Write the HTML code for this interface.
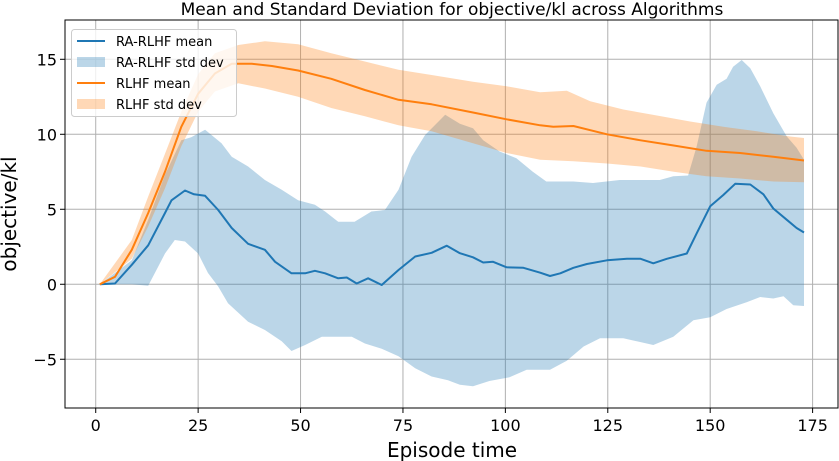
<!DOCTYPE html>
<html><head><meta charset="utf-8"><style>
body{margin:0;background:#fff;}
svg{display:block;font-family:"DejaVu Sans","Liberation Sans",sans-serif;}
</style></head><body>
<svg id="chart" width="839" height="461"></svg>
<script>
const raMeanX=[1,4.7,8.8,12.8,16.9,18.5,21.8,24,26.7,29.9,33.2,37.2,41.3,43.8,47.8,51.1,53.5,56,59.2,61.3,63.7,66.5,69.8,73.9,78,82,85.7,88.9,92.1,94.6,97,100.3,104.4,108.5,110.9,113.4,116.6,119.9,124.8,129.7,133,136.1,139.4,144.3,146.7,150,153.2,156.1,159.8,163,165.4,168.7,171.1,172.9];
const raMean=[0,0.05,1.3,2.6,4.75,5.6,6.25,6.0,5.9,4.95,3.75,2.7,2.3,1.5,0.73,0.73,0.9,0.73,0.4,0.45,0.05,0.4,-0.05,0.95,1.85,2.1,2.57,2.07,1.8,1.45,1.5,1.13,1.1,0.77,0.55,0.73,1.1,1.35,1.6,1.7,1.7,1.4,1.7,2.05,3.4,5.2,5.95,6.7,6.65,6.0,5.05,4.3,3.75,3.45];
const raUpX=[1,8.8,12.8,16.9,20.9,23.3,26.7,30.7,33.2,37.2,41.3,45.4,49.4,53.5,56,59.2,63.2,67.3,70.6,73.9,77.1,80.4,85.3,88.9,92.1,94.6,98.6,102.7,106.7,110,116.6,121.4,127.9,137.7,141,144.6,146.7,149.1,151.6,154,155.6,157.7,159.8,162.2,165.4,168.7,171.1,172.9];
const raUp=[0,1.6,4.3,7.3,9.6,9.8,10.3,9.4,8.5,7.85,6.95,6.3,5.6,5.3,4.85,4.17,4.17,4.85,4.95,6.3,8.5,9.95,11.3,10.7,10.4,9.6,8.85,8.4,7.5,6.85,6.85,6.75,6.95,6.95,7.2,7.25,9.2,12.1,13.3,13.7,14.5,14.95,14.4,13.2,11.4,9.85,9.1,8.3];
const raLoX=[1,8.8,12.8,15.3,16.9,19.3,21.8,25,27.4,29.9,32.3,37.2,41.3,45.4,47.8,51.1,55.2,59.2,62.5,65.7,69.8,73.9,78,82,86,88.9,92.1,96.1,101,105.2,110.9,115,119.1,123.1,128.8,132.9,136.1,141,145.9,150,154,158.9,162.2,165.4,167.9,170.3,172.9];
const raLo=[0,0,-0.1,1.2,2.05,2.95,2.85,2.05,0.75,-0.15,-1.27,-2.5,-3.05,-3.8,-4.45,-4.05,-3.5,-3.5,-3.5,-3.95,-4.3,-4.8,-5.6,-6.15,-6.4,-6.7,-6.8,-6.45,-6.2,-5.7,-5.7,-5.1,-4.15,-3.6,-3.6,-3.85,-4.05,-3.5,-2.4,-2.2,-1.65,-1.2,-0.85,-0.95,-0.8,-1.4,-1.45];
const rlMeanX=[1,4.7,8.8,12.8,16.9,20.9,25,29.1,33.2,38.1,43,49.4,57.5,65.7,73.9,82,92.1,100.3,108.5,111.7,116.6,124.8,133,141.1,149.1,157.3,165.4,172.9];
const rlMean=[0,0.5,2.3,4.75,7.5,10.5,12.7,14.05,14.7,14.7,14.55,14.25,13.7,12.95,12.3,12.0,11.45,11.0,10.6,10.5,10.55,10.0,9.6,9.25,8.9,8.75,8.5,8.25];
const rlUpX=[1,8.8,12.8,16.9,20.9,25,29.1,34.8,41.3,49.4,57.5,65.7,73.9,82,92.1,100.3,108.5,115,120.7,128.8,137,145.1,153.2,161.4,169.5,172.9];
const rlUp=[0,2.95,5.85,8.7,11.5,14.0,15.4,15.95,16.2,16.0,15.4,14.85,14.3,13.95,13.5,13.2,12.8,12.9,12.2,11.65,11.25,10.85,10.5,10.2,9.85,9.75];
const rlLoX=[1,8.8,12.8,16.9,20.9,25,29.1,34.8,41.3,49.4,57.5,65.7,73.9,82,92.1,100.3,108.5,116.6,124.8,133,141.1,149.1,157.3,165.4,172.9];
const rlLo=[0,1.7,3.85,6.4,9.2,11.5,12.85,13.4,13.05,12.5,11.75,11.2,10.6,10.2,9.4,8.75,8.3,8.2,8.05,7.85,7.5,7.2,7.05,6.85,6.8];
const xTicks=[0,25,50,75,100,125,150,175];
const yTicks=[-5,0,5,10,15];

const NS="http://www.w3.org/2000/svg";
const svg=document.getElementById('chart');
const L=65,R=838,T=20,B=408;
const xmin=-7.5,xmax=181.2,ymin=-8.25,ymax=17.62;
const sx=v=>L+(v-xmin)/(xmax-xmin)*(R-L);
const sy=v=>B-(v-ymin)/(ymax-ymin)*(B-T);
function mk(tag,attrs){const e=document.createElementNS(NS,tag);for(const k in attrs)e.setAttribute(k,attrs[k]);svg.appendChild(e);return e;}
function txt(s,attrs){const e=mk('text',attrs);e.textContent=s;return e;}
function line(xs,ys){return xs.map((x,i)=>(i?'L':'M')+sx(x).toFixed(1)+','+sy(ys[i]).toFixed(1)).join('');}
function band(ux,uy,lx,ly){let d=line(ux,uy);for(let i=lx.length-1;i>=0;i--)d+='L'+sx(lx[i]).toFixed(1)+','+sy(ly[i]).toFixed(1);return d+'Z';}

xTicks.forEach(v=>{
  const g=mk('line',{x1:sx(v),x2:sx(v),y1:T,y2:B,stroke:'#b0b0b0','stroke-width':1});
  
  
  const t=mk('line',{x1:sx(v),x2:sx(v),y1:B,y2:B+5,stroke:'#000','stroke-width':1});
  
  
  const l=txt(String(v),{x:sx(v),y:B+23,'text-anchor':'middle','font-size':16,fill:'#000'});
  
  
});
yTicks.forEach(v=>{
  const g=mk('line',{x1:L,x2:R,y1:sy(v),y2:sy(v),stroke:'#b0b0b0','stroke-width':1});
  
  
  const t=mk('line',{x1:L-5,x2:L,y1:sy(v),y2:sy(v),stroke:'#000','stroke-width':1});
  
  
  const l=txt(v<0?'\u2212'+(-v):String(v),{x:L-8,y:sy(v)+6,'text-anchor':'end','font-size':16,fill:'#000'});
  
  
});

const raBand=mk('path',{d:band(raUpX,raUp,raLoX,raLo),fill:'#1f77b4','fill-opacity':0.3});


const raLine=mk('path',{d:line(raMeanX,raMean),fill:'none',stroke:'#1f77b4','stroke-width':2,'stroke-linejoin':'round'});


const rlBand=mk('path',{d:band(rlUpX,rlUp,rlLoX,rlLo),fill:'#ff7f0e','fill-opacity':0.3});


const rlLine=mk('path',{d:line(rlMeanX,rlMean),fill:'none',stroke:'#ff7f0e','stroke-width':2,'stroke-linejoin':'round'});



const frame=mk('rect',{x:L,y:T,width:R-L,height:B-T,fill:'none',stroke:'#000','stroke-width':1});



const title=txt('Mean and Standard Deviation for objective/kl across Algorithms',{x:452,y:15,'text-anchor':'middle','font-size':17,fill:'#000'});


const xl=txt('Episode time',{x:452,y:457,'text-anchor':'middle','font-size':20,fill:'#000'});


const yl=txt('objective/kl',{x:0,y:0,'text-anchor':'middle','font-size':20,fill:'#000',transform:'translate(16,214) rotate(-90)'});



const lg=mk('rect',{x:71.5,y:29.5,width:165,height:87,rx:3,fill:'#fff','fill-opacity':0.8,stroke:'#ccc','stroke-width':1});


const entries=[['RA-RLHF mean','#1f77b4','line'],['RA-RLHF std dev','#1f77b4','patch'],['RLHF mean','#ff7f0e','line'],['RLHF std dev','#ff7f0e','patch']];
entries.forEach((e,i)=>{
  const y=41+i*21;
  let m;
  if(e[2]==='line') m=mk('line',{x1:77,x2:105,y1:y,y2:y,stroke:e[1],'stroke-width':2});
  else m=mk('rect',{x:77,y:y-5,width:28,height:10,fill:e[1],'fill-opacity':0.3});
  
  
  const t=txt(e[0],{x:116,y:y+5,'font-size':13,fill:'#000'});
  
  
});
</script>
</body></html>
